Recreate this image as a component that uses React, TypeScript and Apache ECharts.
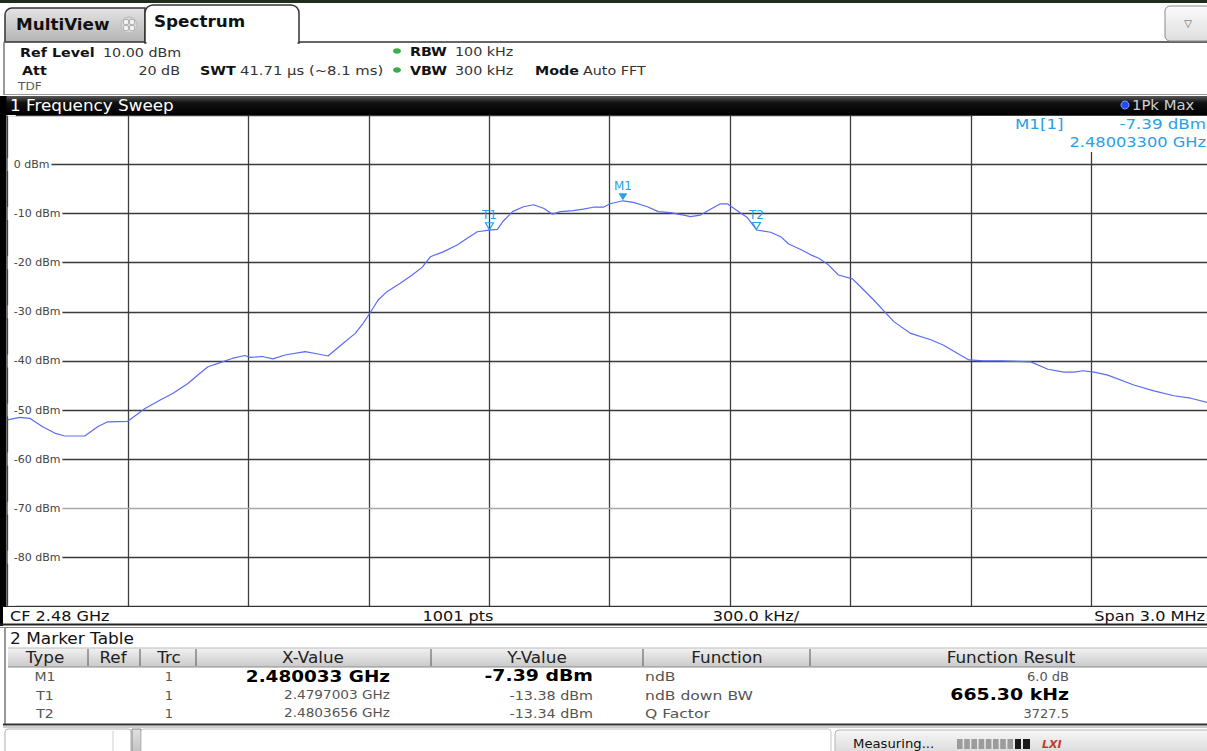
import React, { useEffect, useRef } from 'react';
import * as echarts from 'echarts';

const W = 1207;
const H = 751;

const centerMHz = 2480;
const spanKHz = 3000;
const divKHz = 300;
const refLevelDbm = 10;
const bottomLevelDbm = -90;
const levelStepDb = 10;

// Trace 1 (1Pk Max): frequency in MHz and level in dBm
const traceFreqMHz = [
  2478.5, 2478.53, 2478.555, 2478.587, 2478.617, 2478.642, 2478.692, 2478.724, 2478.749, 2478.799,
  2478.842, 2478.879, 2478.912, 2478.949, 2478.979, 2478.999, 2479.024, 2479.059, 2479.091, 2479.104,
  2479.134, 2479.161, 2479.191, 2479.241, 2479.273, 2479.298, 2479.336, 2479.366, 2479.386, 2479.403,
  2479.423, 2479.445, 2479.478, 2479.508, 2479.533, 2479.553, 2479.585, 2479.62, 2479.645, 2479.67,
  2479.7, 2479.72, 2479.735, 2479.758, 2479.785, 2479.81, 2479.835, 2479.857, 2479.877, 2479.909,
  2479.934, 2479.959, 2479.984, 2480.001, 2480.033, 2480.059, 2480.094, 2480.121, 2480.151, 2480.184,
  2480.201, 2480.226, 2480.251, 2480.276, 2480.293, 2480.326, 2480.343, 2480.366, 2480.401, 2480.426,
  2480.446, 2480.476, 2480.501, 2480.521, 2480.543, 2480.57, 2480.605, 2480.625, 2480.658, 2480.683,
  2480.708, 2480.75, 2480.8, 2480.832, 2480.867, 2480.895, 2480.932, 2480.974, 2481.049, 2481.092,
  2481.132, 2481.157, 2481.179, 2481.207, 2481.241, 2481.306, 2481.356, 2481.406, 2481.448, 2481.491,
  2481.5,
];
const traceLevelDbm = [
  -52.0, -51.5, -51.7, -53.4, -54.7, -55.3, -55.3, -53.4, -52.4, -52.3,
  -49.7, -48.0, -46.6, -44.6, -42.5, -41.2, -40.5, -39.5, -38.9, -39.3,
  -39.1, -39.6, -38.8, -38.1, -38.6, -39.0, -36.4, -34.4, -32.3, -30.2,
  -27.6, -25.9, -24.2, -22.5, -20.9, -18.8, -17.8, -16.4, -15.0, -13.7,
  -13.38, -13.2, -11.5, -9.6, -8.6, -8.2, -8.9, -10.1, -9.6, -9.4,
  -9.1, -8.7, -8.7, -8.0, -7.39, -7.7, -8.6, -9.6, -9.8, -10.3,
  -10.6, -10.3, -9.1, -8.0, -8.0, -9.9, -10.8, -13.34, -13.8, -14.7,
  -16.2, -17.3, -18.4, -19.1, -20.3, -22.5, -23.3, -24.9, -27.6, -29.8,
  -32.0, -34.4, -35.7, -36.8, -38.5, -39.8, -40.0, -40.0, -40.2, -41.7,
  -42.3, -42.3, -42.0, -42.3, -42.9, -44.9, -46.1, -47.1, -47.6, -48.5,
  -48.6,
];

// Marker table
const markerNames = ['M1', 'T1', 'T2'];
const markerTraces = ['1', '1', '1'];
const markerFreqGHz = [2.480033, 2.4797003, 2.4803656];
const markerFreqDecimals = [6, 7, 7];
const markerLevelDbm = [-7.39, -13.38, -13.34];
const markerFunctions = ['ndB', 'ndB down BW', 'Q Factor'];
const markerResults = ['6.0 dB', '665.30 kHz', '3727.5'];
const tableHeaders = ['Type', 'Ref', 'Trc', 'X-Value', 'Y-Value', 'Function', 'Function Result'];

const SANS = '"DejaVu Sans"';
const MARKER_BLUE = '#2aa0e6';
const TRACE_BLUE = '#5a6cf2';

const toOffsetKHz = (mhz: number) => Math.round((mhz - centerMHz) * 1000 * 10) / 10;

function txt(text: string, x: number, y: number, font: string, fill: string, align = 'left', sx = 1, z = 20) {
  return {
    type: 'text',
    x,
    y,
    z,
    scaleX: sx,
    silent: true,
    style: {
      text,
      font,
      fill,
      align,
      textAlign: align,
      verticalAlign: 'middle',
      textVerticalAlign: 'middle',
    },
  };
}

function rect(x: number, y: number, w: number, h: number, style: any, z = 5, r: any = 0) {
  return { type: 'rect', z, silent: true, shape: { x, y, width: w, height: h, r }, style };
}

function hline(x1: number, x2: number, y: number, stroke: string, lineWidth = 1, z = 6) {
  return { type: 'line', z, silent: true, shape: { x1, y1: y, x2, y2: y }, style: { stroke, lineWidth } };
}

function vline(x: number, y1: number, y2: number, stroke: string, lineWidth = 1, z = 6) {
  return { type: 'line', z, silent: true, shape: { x1: x, y1, x2: x, y2 }, style: { stroke, lineWidth } };
}

const vGrad = (top: string, bottom: string, mid?: string) =>
  new echarts.graphic.LinearGradient(0, 0, 0, 1,
    mid
      ? [{ offset: 0, color: top }, { offset: 0.35, color: mid }, { offset: 1, color: bottom }]
      : [{ offset: 0, color: top }, { offset: 1, color: bottom }]);

function buildGraphics() {
  const g: any[] = [];

  // window top edge
  g.push(rect(0, 0, W, 3, { fill: '#1f2d1c' }, 5));

  // MultiView tab
  g.push(rect(5, 8, 140, 34, { fill: vGrad('#e4e4e4', '#b4b4b4'), stroke: '#333', lineWidth: 1.5 }, 5, [7, 0, 0, 0]));
  g.push(txt('MultiView', 16, 25, `bold 15px ${SANS}`, '#111', 'left', 1.12));
  g.push({ type: 'circle', z: 20, silent: true, shape: { cx: 129, cy: 25, r: 8 }, style: { fill: '#d6d6d6', stroke: '#bdbdbd', lineWidth: 1 } });
  const icon = [[123.5, 19.5], [129.5, 19.5], [123.5, 25.5], [129.5, 25.5]];
  icon.forEach(([x, y]) => g.push(rect(x, y, 5, 5, { fill: '#f4f4f4', stroke: '#a5a5a5', lineWidth: 0.8 }, 21, 1.5)));

  // Spectrum tab
  g.push(rect(145, 5, 154, 38, { fill: '#ffffff', stroke: '#333', lineWidth: 1.5 }, 7, [8, 8, 0, 0]));
  g.push(rect(146.5, 41, 151, 4, { fill: '#ffffff' }, 8));
  g.push(txt('Spectrum', 154, 22, `bold 15px ${SANS}`, '#111', 'left', 1.12));
  g.push(hline(299, W, 42, '#333', 1.5, 6));
  g.push(vline(4, 42, 95, '#555', 1.2));

  // drop-down button
  g.push(rect(1165, 6, 46, 35, { fill: vGrad('#fbfbfb', '#dedede'), stroke: '#8a8a8a', lineWidth: 1 }, 7, 5));
  g.push(txt('▽', 1188, 23, `10px ${SANS}`, '#555', 'center'));

  // instrument settings
  const lab = `bold 13px ${SANS}`;
  const val = `13px ${SANS}`;
  const s = 1.1;
  g.push(txt('Ref Level', 20, 52, lab, '#111', 'left', s));
  g.push(txt('10.00 dBm', 103, 52, val, '#333', 'left', s));
  g.push(txt('Att', 22, 70, lab, '#111', 'left', s));
  g.push(txt('20 dB', 180, 70, val, '#333', 'right', s));
  g.push(txt('SWT', 200, 70, lab, '#111', 'left', s));
  g.push(txt('41.71 µs (~8.1 ms)', 240, 70, val, '#333', 'left', 1.14));
  g.push({ type: 'ellipse', z: 20, silent: true, shape: { cx: 397, cy: 51, rx: 4, ry: 2.8 }, style: { fill: '#3aae48' } });
  g.push({ type: 'ellipse', z: 20, silent: true, shape: { cx: 397, cy: 70, rx: 4, ry: 2.8 }, style: { fill: '#3aae48' } });
  g.push(txt('RBW', 410, 51, lab, '#111', 'left', s));
  g.push(txt('100 kHz', 455, 51, val, '#333', 'left', s));
  g.push(txt('VBW', 410, 70, lab, '#111', 'left', s));
  g.push(txt('300 kHz', 455, 70, val, '#333', 'left', s));
  g.push(txt('Mode', 535, 70, lab, '#111', 'left', s));
  g.push(txt('Auto FFT', 583, 70, val, '#333', 'left', s));
  g.push(txt('TDF', 18, 86, `11px ${SANS}`, '#555', 'left', s));
  g.push(hline(4, W, 94.5, '#9a9a9a', 1));

  // diagram title bar
  g.push(rect(0, 96, W, 19, { fill: vGrad('#5a5a5a', '#000000', '#111111') }, 5));
  g.push(txt('1 Frequency Sweep', 10, 106, `15px ${SANS}`, '#ffffff', 'left', 1.12));
  g.push({ type: 'circle', z: 20, silent: true, shape: { cx: 1125, cy: 105, r: 4 }, style: { fill: '#1f4dff', stroke: '#7fa0ff', lineWidth: 1 } });
  g.push(txt('1Pk Max', 1132, 105, `14px ${SANS}`, '#cfcfcf', 'left', 1.06));

  // left frame of the diagram
  g.push(rect(0, 96, 6.5, 511, { fill: '#000' }, 30));
  g.push(rect(0, 606, 3, 20, { fill: '#000' }, 30));

  // marker readout field
  const ro = `14.5px ${SANS}`;
  g.push(rect(973, 116, 240, 36, { fill: '#ffffff' }, 25));
  g.push(txt(`${markerNames[0]}[${markerTraces[0]}]`, 1015, 124, ro, MARKER_BLUE, 'left', 1.15, 26));
  g.push(txt(`${markerLevelDbm[0].toFixed(2)} dBm`, 1206, 124, ro, MARKER_BLUE, 'right', 1.15, 26));
  g.push(txt(`${markerFreqGHz[0].toFixed(8)} GHz`, 1206, 142, ro, MARKER_BLUE, 'right', 1.12, 26));

  // frequency footer of the diagram
  g.push(rect(3, 607, W, 17, { fill: '#ffffff' }, 28));
  g.push(hline(0, W, 606.5, '#333', 1, 29));
  const foot = `14px ${SANS}`;
  g.push(txt(`CF ${(centerMHz / 1000).toFixed(2)} GHz`, 10, 616, foot, '#111', 'left', 1.15, 31));
  g.push(txt(`${1001} pts`, 458, 616, foot, '#111', 'center', 1.15, 31));
  g.push(txt(`${divKHz.toFixed(1)} kHz/`, 756, 616, foot, '#111', 'center', 1.15, 31));
  g.push(txt(`Span ${(spanKHz / 1000).toFixed(1)} MHz`, 1205, 616, foot, '#111', 'right', 1.15, 31));
  g.push(hline(0, W, 624.5, '#222', 2, 31));
  g.push(hline(0, W, 627.5, '#8a8a8a', 1, 31));

  // marker table panel
  g.push(vline(5, 628, 725, '#555', 1.2));
  g.push(txt('2 Marker Table', 10, 639, `15px ${SANS}`, '#111', 'left', 1.13));
  g.push(rect(8, 648, W - 8, 19, { fill: vGrad('#f2f2f2', '#c9c9c9') }, 5));
  g.push(hline(8, W, 648, '#bdbdbd', 1));
  g.push(hline(8, W, 667, '#8c8c8c', 1));
  [88, 140, 196, 431, 643, 810].forEach((x) => g.push(vline(x, 649, 666, '#555', 1)));
  const headX = [45, 113, 169, 313, 537, 727, 1011];
  tableHeaders.forEach((h, i) => g.push(txt(h, headX[i], 657.5, `15px ${SANS}`, '#222', 'center', 1.12)));

  const rowY = [676, 695, 713];
  markerNames.forEach((name, i) => {
    const bold = i === 0;
    const small = `13px ${SANS}`;
    const big = `bold 16px ${SANS}`;
    const col = '#555';
    const strong = '#000';
    g.push(txt(name, 45, rowY[i], small, col, 'center', 1.08));
    g.push(txt(markerTraces[i], 169, rowY[i], small, col, 'center'));
    g.push(txt(`${markerFreqGHz[i].toFixed(markerFreqDecimals[i])} GHz`, 390, rowY[i],
      bold ? big : small, bold ? strong : col, 'right', bold ? 1.15 : 1.05));
    g.push(txt(`${markerLevelDbm[i].toFixed(2)} dBm`, 593, rowY[i],
      bold ? big : small, bold ? strong : col, 'right', bold ? 1.18 : 1.1));
    g.push(txt(markerFunctions[i], 645, rowY[i], small, col, 'left', 1.2));
    const resBold = i === 1;
    g.push(txt(markerResults[i], 1069, rowY[i], resBold ? big : small, resBold ? strong : col, 'right', resBold ? 1.18 : 1.0));
  });
  g.push(hline(3, W, 724.5, '#333', 2));
  g.push(hline(3, W, 727, '#9a9a9a', 1));

  // status bar
  g.push(rect(5, 729, 126, 26, { fill: '#ffffff', stroke: '#b0b0b0', lineWidth: 1 }, 5, 3));
  g.push(vline(113, 731, 751, '#d0d0d0', 1));
  g.push(rect(132, 729, 9, 26, { fill: vGrad('#e0e0e0', '#c0c0c0'), stroke: '#8a8a8a', lineWidth: 1 }, 5));
  g.push(rect(141, 729, 690, 26, { fill: '#ffffff', stroke: '#c4c4c4', lineWidth: 1 }, 5, 3));
  g.push(rect(835, 730, 380, 25, { fill: vGrad('#f7f7f7', '#d8d8d8'), stroke: '#b5b5b5', lineWidth: 1 }, 5, 4));
  g.push(txt('Measuring...', 853, 744, `12px ${SANS}`, '#111', 'left', 1.1));
  for (let k = 0; k < 8; k++) {
    g.push(rect(957 + k * 7.2, 739, 5.6, 10, { fill: '#9c9c9c' }, 21));
  }
  g.push(rect(1015, 739, 6, 10, { fill: '#1a1a1a' }, 21));
  g.push(rect(1023, 739, 7, 10, { fill: '#1a1a1a' }, 21));
  g.push(txt('LXI', 1042, 744, `italic bold 11px ${SANS}`, '#c23a2e'));

  return g;
}

export default function App() {
  const ref = useRef<HTMLDivElement>(null);

  useEffect(() => {
    document.body.style.margin = '0';
    if (!ref.current) return;
    const chart = echarts.init(ref.current, undefined, { renderer: 'svg' });

    const trace = traceFreqMHz.map((f, i) => [toOffsetKHz(f), traceLevelDbm[i]]);
    const half = spanKHz / 2;
    const nLines = Math.round((refLevelDbm - bottomLevelDbm) / levelStepDb) + 1;
    const hColors = Array.from({ length: nLines }, (_, i) => (i === 2 ? '#a8a8a8' : '#3a3a3a'));

    const markerData = markerNames.map((name, i) => {
      const filled = i === 0;
      return {
        name,
        coord: [toOffsetKHz(markerFreqGHz[i] * 1000), markerLevelDbm[i]],
        symbol: 'path://M0,0 L10,0 L5,8 Z',
        symbolSize: filled ? [9, 7] : [8, 7],
        symbolOffset: [0, -4],
        itemStyle: filled
          ? { color: MARKER_BLUE, borderWidth: 0 }
          : { color: 'rgba(255,255,255,0)', borderColor: MARKER_BLUE, borderWidth: 1.2 },
        label: {
          show: true,
          position: 'top',
          distance: 1,
          formatter: name,
          color: MARKER_BLUE,
          fontSize: 12,
          fontFamily: 'DejaVu Sans',
        },
      };
    });

    chart.setOption({
      animation: false,
      backgroundColor: '#ffffff',
      grid: { left: 7.7, top: 115.4, width: 1204, height: 491, containLabel: false, outerBoundsMode: 'none' },
      xAxis: {
        type: 'value',
        min: -half,
        max: half,
        interval: divKHz,
        axisLine: { show: false },
        axisTick: { show: false },
        axisLabel: { show: false },
        splitLine: { show: true, lineStyle: { color: '#3f3f3f', width: 1.3 } },
      },
      yAxis: {
        type: 'value',
        min: bottomLevelDbm,
        max: refLevelDbm,
        interval: levelStepDb,
        axisLine: { show: false },
        axisTick: { show: false },
        axisLabel: {
          inside: true,
          margin: 0,
          color: '#444',
          fontSize: 11,
          fontFamily: 'DejaVu Sans',
          backgroundColor: '#ffffff',
          padding: [1, 2, 1, 6],
          formatter: (v: number) => (v === refLevelDbm || v === bottomLevelDbm ? '' : `${v} dBm`),
        },
        splitLine: { show: true, lineStyle: { color: hColors, width: 1.3 } },
        z: 3,
      },
      series: [
        {
          type: 'line',
          data: trace,
          showSymbol: false,
          smooth: false,
          lineStyle: { color: TRACE_BLUE, width: 1.2 },
          z: 4,
          markPoint: {
            silent: true,
            data: markerData,
          },
        },
      ],
      graphic: buildGraphics(),
    });

    return () => chart.dispose();
  }, []);

  return <div ref={ref} style={{ width: W, height: H }} />;
}
